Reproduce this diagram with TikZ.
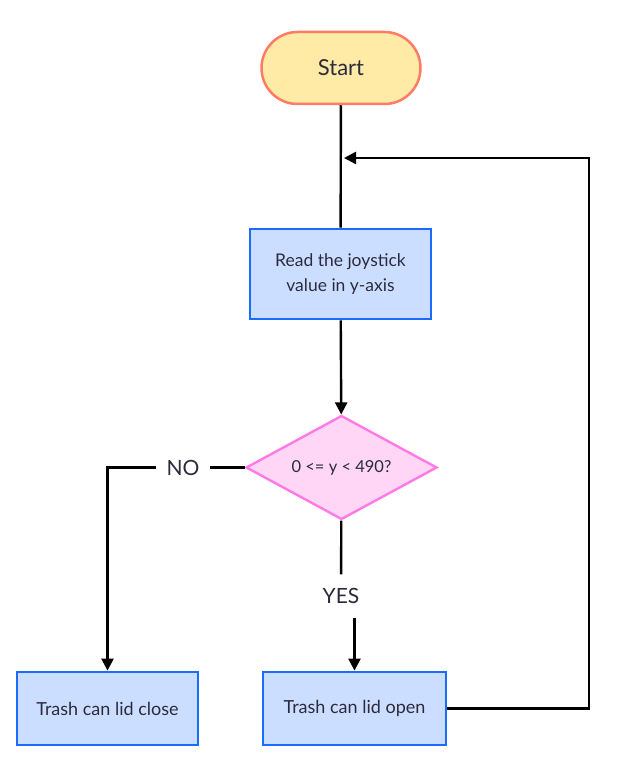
\documentclass[tikz,border=0pt]{standalone}
\usepackage{fontspec}
\setmainfont{Lato}
\usetikzlibrary{shapes.geometric,arrows.meta}
\definecolor{startfill}{HTML}{FFEAA6}
\definecolor{startline}{HTML}{FF7B66}
\definecolor{boxfill}{HTML}{CCDEFF}
\definecolor{boxline}{HTML}{1A6BFF}
\definecolor{askfill}{HTML}{FFD6F5}
\definecolor{askline}{HTML}{FF7AE6}
\definecolor{ink}{HTML}{2B2B3D}
\begin{document}
\begin{tikzpicture}[x=1pt, y=-1pt, >={Triangle[length=12pt,width=12pt]},
  line/.style={line width=2.4pt},
  startnode/.style={draw=startline, fill=startfill, line width=2.5pt, rounded corners=36pt,
    minimum width=159pt, minimum height=72pt, text=ink, font=\fontsize{22}{26}\selectfont},
  process/.style={draw=boxline, fill=boxfill, line width=2.8pt, minimum width=181pt,
    minimum height=73pt, align=center, text=ink, font=\fontsize{18}{25}\selectfont},
  decision/.style={diamond, aspect=1.84, draw=askline, fill=askfill, line width=2.4pt,
    inner sep=0pt, minimum width=191pt, minimum height=104pt, text=ink,
    font=\fontsize{16.5}{20}\selectfont},
  answer/.style={inner xsep=10pt, inner ysep=14pt, text height=15pt, text depth=0pt,
    text=ink, font=\fontsize{21}{25}\selectfont}]
 \useasboundingbox (0,0) rectangle (616,781);
 \node[startnode] (start) at (341,68) {Start};
 \node[process, minimum height=90pt, font=\fontsize{17.5}{25}\selectfont] (read) at (340.5,274) {Read the joystick\\value in y-axis};
 \node[decision] (check) at (341.5,467.5) {0 <= y < 490?};
 \node[process] (close) at (107.5,708.5) {Trash can lid close};
 \node[process, minimum width=183pt] (open) at (354.5,708.5) {Trash can lid open};
 \node[answer] (no) at (183,467.5) {NO};
 \node[answer] (yes) at (341,596) {YES};
 \coordinate (loop) at (589,158);
 \coordinate (entry) at (344,158);
 \draw[line] (start) -- (read);
 \draw[line,->] (read) -- (check);
 \draw[line] (check) -- (no);
 \draw[line,->] (no) -| (close);
 \draw[line] (check) -- (yes);
 \draw[line,->] (yes.south -| open.north) -- (open);
 \draw[line,->] (open) -| (loop) -- (entry);
\end{tikzpicture}
\end{document}
